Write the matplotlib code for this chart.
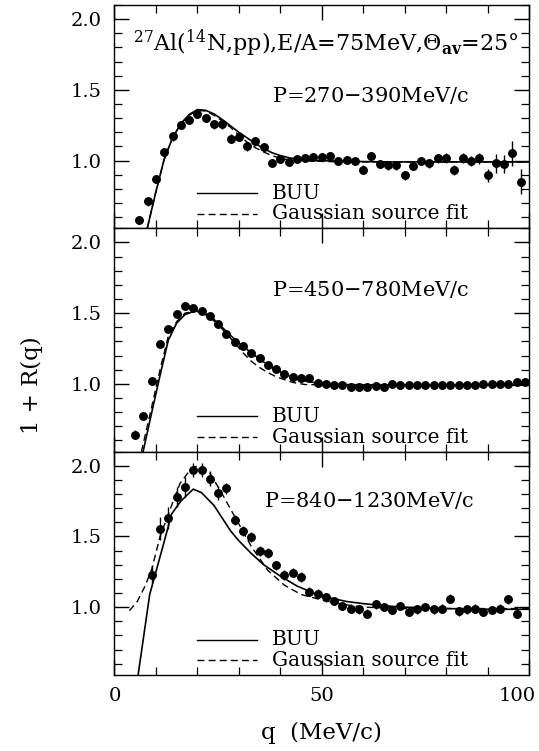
import matplotlib
matplotlib.use("Agg")
import matplotlib.pyplot as plt
from matplotlib.ticker import MultipleLocator
from matplotlib.transforms import ScaledTranslation

plt.rcParams["font.family"] = ["DejaVu Serif"]
plt.rcParams["mathtext.fontset"] = "dejavuserif"

# --- data ------------------------------------------------------------------
q1 = list(range(6, 99, 2))
r1 = [0.58, 0.71, 0.87, 1.06, 1.17, 1.25, 1.29, 1.33, 1.30, 1.255, 1.255, 1.155,
      1.165, 1.10, 1.135, 1.095, 0.985, 1.01, 0.99, 1.01, 1.02, 1.025, 1.025, 1.035,
      1.0, 1.005, 0.995, 0.935, 1.03, 0.975, 0.965, 0.965, 0.895, 0.96, 0.995, 0.98,
      1.015, 1.02, 0.93, 1.015, 0.995, 1.015, 0.895, 0.98, 0.975, 1.05, 0.85]
e1 = [0.03, 0.03, 0.03, 0.03, 0.03, 0.03, 0.03, 0.03, 0.03, 0.03, 0.03, 0.03,
      0.03, 0.03, 0.03, 0.03, 0.025, 0.025, 0.025, 0.025, 0.025, 0.025, 0.025, 0.025,
      0.025, 0.025, 0.025, 0.03, 0.03, 0.03, 0.03, 0.03, 0.03, 0.03, 0.03, 0.03,
      0.03, 0.035, 0.035, 0.035, 0.035, 0.04, 0.045, 0.065, 0.065, 0.09, 0.09]

q2 = list(range(5, 100, 2))
r2 = [0.64, 0.775, 1.02, 1.28, 1.39, 1.495, 1.55, 1.54, 1.515, 1.48, 1.425, 1.35,
      1.295, 1.27, 1.22, 1.185, 1.13, 1.105, 1.07, 1.05, 1.043, 1.043, 1.007, 1.0,
      0.995, 0.995, 0.98, 0.98, 0.98, 0.985, 0.98, 1.0, 0.995, 0.995, 0.995, 0.99,
      0.995, 0.99, 0.995, 0.995, 0.995, 0.995, 1.0, 1.0, 1.0, 1.0, 1.01, 1.01]
e2 = [0.03] + [0.012] * 47

q3 = list(range(9, 98, 2))
r3 = [1.23, 1.555, 1.63, 1.78, 1.85, 1.97, 1.97, 1.91, 1.81, 1.84, 1.615, 1.54,
      1.495, 1.40, 1.38, 1.295, 1.225, 1.245, 1.215, 1.11, 1.095, 1.07, 1.045, 1.01,
      0.99, 0.985, 0.955, 1.02, 1.0, 0.98, 1.01, 0.965, 0.985, 1.0, 0.985, 0.99,
      1.06, 0.97, 0.985, 0.99, 0.965, 0.98, 0.99, 1.055, 0.95]
e3 = [0.06, 0.08, 0.08, 0.07, 0.07, 0.05, 0.05, 0.05, 0.05, 0.04, 0.035, 0.035,
      0.035, 0.035, 0.035, 0.035, 0.035, 0.035, 0.035, 0.03, 0.03, 0.03, 0.03, 0.03,
      0.03, 0.03, 0.03, 0.03, 0.03, 0.03, 0.03, 0.03, 0.03, 0.03, 0.03, 0.03,
      0.03, 0.03, 0.03, 0.03, 0.03, 0.03, 0.03, 0.03, 0.03]

# model curves (BUU solid, Gaussian source fit dashed)
buu1_q = [7.9, 10, 12, 14, 16, 18, 20, 22, 24, 26, 28, 30, 32, 34, 36, 38, 40, 42,
          44, 48, 55, 65, 80, 100]
buu1_r = [0.52, 0.78, 1.01, 1.16, 1.26, 1.325, 1.36, 1.355, 1.33, 1.29, 1.245, 1.20,
          1.16, 1.12, 1.085, 1.055, 1.035, 1.02, 1.01, 1.0, 0.995, 0.99, 0.99, 0.99]
gau1_q = buu1_q
gau1_r = [0.52, 0.78, 1.01, 1.16, 1.26, 1.32, 1.355, 1.35, 1.32, 1.28, 1.235, 1.18,
          1.13, 1.09, 1.06, 1.035, 1.015, 1.005, 1.0, 0.995, 0.99, 0.99, 0.99, 0.99]

buu2_q = [6.9, 9, 11, 13, 15, 17, 19.4, 21, 23, 25, 27, 29, 31, 33, 35, 37, 39, 41,
          43, 45, 49, 55, 70, 100]
buu2_r = [0.52, 0.80, 1.06, 1.31, 1.43, 1.49, 1.515, 1.51, 1.48, 1.43, 1.37, 1.315,
          1.265, 1.22, 1.175, 1.135, 1.10, 1.07, 1.045, 1.025, 1.005, 0.995, 0.99, 0.99]
gau2_q = [6.5, 9, 11, 13, 15, 17, 19.4, 21, 23, 25, 27, 29, 31, 33, 35, 37, 39, 41,
          43, 46, 55, 70, 100]
gau2_r = [0.52, 0.84, 1.10, 1.34, 1.44, 1.50, 1.515, 1.505, 1.47, 1.42, 1.355, 1.29,
          1.22, 1.16, 1.115, 1.08, 1.05, 1.03, 1.01, 0.995, 0.99, 0.99, 0.99]

buu3_q = [5.7, 8.5, 11.4, 13.8, 16, 19, 21, 24, 26, 28, 30, 33, 36, 40, 44, 48, 52,
          56, 60, 65, 70, 80, 90, 100]
buu3_r = [0.52, 1.09, 1.40, 1.66, 1.75, 1.835, 1.81, 1.72, 1.63, 1.54, 1.47, 1.38,
          1.30, 1.22, 1.15, 1.10, 1.065, 1.04, 1.025, 1.01, 1.0, 0.99, 0.985, 0.985]
gau3_q = [3.6, 5.5, 7.4, 9, 11, 13.4, 15.8, 18.5, 20, 22.6, 25.8, 29.4, 33, 37, 41,
          45, 50.7, 56.3, 60, 70, 100]
gau3_r = [0.975, 1.04, 1.15, 1.27, 1.5, 1.69, 1.875, 1.98, 2.0, 1.97, 1.81, 1.62,
          1.43, 1.26, 1.155, 1.09, 1.045, 1.015, 1.0, 0.99, 0.99]

p_labels = ["P=270$-$390MeV/c", "P=450$-$780MeV/c", "P=840$-$1230MeV/c"]
p_label_y = [0.595, 0.725, 0.78]
p_label_x = [38.0, 38.0, 36.0]
title = r"$^{27}$Al($^{14}$N,pp),E/A=75MeV,$\Theta_{\mathbf{av}}$=25$\degree$"

panels = [
    (q1, r1, e1, buu1_q, buu1_r, gau1_q, gau1_r),
    (q2, r2, e2, buu2_q, buu2_r, gau2_q, gau2_r),
    (q3, r3, e3, buu3_q, buu3_r, gau3_q, gau3_r),
]

fig, axes = plt.subplots(3, 1, figsize=(5.39, 7.51), dpi=100, sharex=True)
fig.subplots_adjust(left=0.2124, right=0.9814, top=0.9933, bottom=0.1012, hspace=0)

for i, (ax, (q, r, e, bq, br, gq, gr)) in enumerate(zip(axes, panels)):
    ax.plot(bq, br, color="black", lw=1.2)
    ax.plot(gq, gr, color="black", lw=1.0, ls=(0, (5, 3)))
    ax.errorbar(q, r, yerr=e, fmt="o", ms=5.4, color="black", ecolor="black",
                elinewidth=1.0, capsize=0)

    # hand-drawn legend, as in the original
    lt = ax.get_xaxis_transform()
    ax.plot([20, 34.5], [0.158, 0.158], transform=lt, color="black", lw=1.0)
    ax.plot([20, 34.5], [0.065, 0.065], transform=lt, color="black", lw=1.0,
            ls=(0, (5, 3)))
    ax.text(38.0, 0.158, "BUU", transform=lt, fontsize=14.5, va="center")
    ax.text(38.0, 0.065, "Gaussian source fit", transform=lt, fontsize=14.5,
            va="center")

    ax.text(p_label_x[i], p_label_y[i], p_labels[i], transform=lt, fontsize=15,
            va="center")

    ax.set_xlim(0, 100)
    ax.set_ylim(0.52, 2.1)
    ax.xaxis.set_major_locator(MultipleLocator(50))
    ax.xaxis.set_minor_locator(MultipleLocator(10))
    ax.yaxis.set_minor_locator(MultipleLocator(0.1))
    ax.set_yticks([1.0, 1.5, 2.0])
    ax.set_yticklabels(["1.0", "1.5", "2.0"])
    ax.tick_params(which="both", direction="in", top=True, right=True,
                   labelsize=14)
    ax.tick_params(axis="y", pad=9)
    ax.tick_params(which="major", length=11, width=1.0)
    ax.tick_params(which="minor", length=5.5, width=0.9)
    for s in ax.spines.values():
        s.set_linewidth(1.0)

axes[0].text(4.5, 0.83, title, transform=axes[0].get_xaxis_transform(),
             fontsize=16, va="center")

axes[2].set_xticks([0, 50, 100])
axes[2].set_xticklabels(["0", "50", "100"])
axes[2].tick_params(axis="x", pad=9)
last = axes[2].get_xticklabels()[-1]
last.set_transform(last.get_transform()
                   + ScaledTranslation(-12 / 100, 0, fig.dpi_scale_trans))
axes[2].set_xlabel("q  (MeV/c)", fontsize=16.5, labelpad=12)
fig.text(0.06, 0.487, "1 + R(q)", rotation=90, fontsize=16.5, va="center",
         ha="center")

fig.savefig("out.png", dpi=100)
